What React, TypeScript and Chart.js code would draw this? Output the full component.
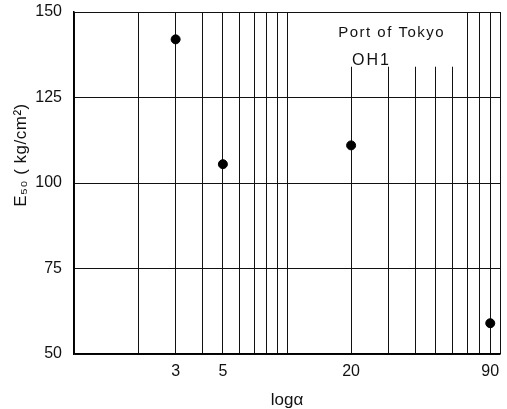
import React, { useEffect, useRef } from "react";
import { Chart, registerables } from "chart.js";

Chart.register(...registerables);

const xGridValues = [1, 2, 3, 4, 5, 6, 7, 8, 9, 10, 20, 30, 40, 50, 60, 70, 80, 90, 100];
const xTickLabels = [3, 5, 20, 90];
const yTickValues = [50, 75, 100, 125, 150];
const alphaValues = [3, 5, 20, 90];
const e50Values = [142, 105.5, 111, 59];
const annotationTitle = "Port of Tokyo";
const annotationSite = "OH1";
const yAxisTitle = "E₅₀ ( kg/cm²)";
const xAxisTitle = "logα";

const FONT = "'Liberation Sans', Arial, sans-serif";

const annotationPlugin = {
  id: "annotationText",
  beforeDatasetsDraw(chart: any) {
    const { ctx, scales, chartArea } = chart;
    const x = scales.x;
    const y = scales.y;
    // blank area behind the label (grid lines stop below the text)
    const x0 = x.getPixelForValue(11);
    const x1 = x.getPixelForValue(67);
    const y1 = y.getPixelForValue(134);
    ctx.save();
    ctx.fillStyle = "#fff";
    ctx.fillRect(x0, chartArea.top + 1, x1 - x0, y1 - chartArea.top - 1);
    ctx.fillStyle = "#111";
    ctx.textBaseline = "middle";
    ctx.textAlign = "center";
    ctx.font = `15px ${FONT}`;
    (ctx as any).letterSpacing = "1.5px";
    ctx.fillText(annotationTitle, x.getPixelForValue(31), y.getPixelForValue(143.9));
    ctx.textAlign = "left";
    (ctx as any).letterSpacing = "2px";
    ctx.font = `16px ${FONT}`;
    ctx.fillText(annotationSite, x.getPixelForValue(20.2), y.getPixelForValue(135.9));
    ctx.restore();
  },
  afterDraw(chart: any) {
    const { ctx, chartArea } = chart;
    ctx.save();
    ctx.fillStyle = "#111";
    ctx.font = `17px ${FONT}`;
    (ctx as any).letterSpacing = "0.5px";
    ctx.textAlign = "center";
    ctx.textBaseline = "middle";
    ctx.translate(21, chartArea.top + 143);
    ctx.rotate(-Math.PI / 2);
    ctx.fillText(yAxisTitle, 0, 0);
    ctx.restore();
  },
};

export default function App() {
  const ref = useRef<HTMLCanvasElement | null>(null);
  useEffect(() => {
    document.body.style.margin = "0";
    const canvas = ref.current!;
    const chart = new Chart(canvas, {
      type: "scatter",
      data: {
        datasets: [
          {
            data: alphaValues.map((a, i) => ({ x: a, y: e50Values[i] })),
            backgroundColor: "#000",
            borderColor: "#000",
            pointRadius: 4.5,
            pointHoverRadius: 4.5,
          },
        ],
      },
      options: {
        responsive: false,
        animation: false,
        events: [],
        layout: { padding: { top: 12, right: 7, left: 0, bottom: 0 } },
        plugins: { legend: { display: false }, tooltip: { enabled: false } },
        scales: {
          x: {
            type: "logarithmic",
            min: 1,
            max: 100,
            afterBuildTicks: (scale: any) => {
              scale.ticks = xGridValues.map((v) => ({ value: v }));
            },
            afterFit: (scale: any) => {
              scale.height = 55;
              scale.paddingLeft = 0;
              scale.paddingRight = 0;
            },
            grid: { color: "#111", lineWidth: 1, drawTicks: false },
            border: { color: "#000", width: 1.5 },
            ticks: {
              autoSkip: false,
              maxRotation: 0,
              padding: 8,
              color: "#111",
              font: { family: FONT, size: 16 },
              callback: (v: any) => (xTickLabels.includes(Number(v)) ? String(v) : ""),
            },
            title: {
              display: true,
              text: xAxisTitle,
              color: "#111",
              font: { family: FONT, size: 17, lineHeight: 1.0 },
              padding: { top: 0, bottom: 0 },
            },
          },
          y: {
            type: "linear",
            min: 50,
            max: 150,
            afterBuildTicks: (scale: any) => {
              scale.ticks = yTickValues.map((v) => ({ value: v }));
            },
            afterFit: (scale: any) => {
              scale.width = 74;
              scale.paddingTop = 0;
              scale.paddingBottom = 0;
            },
            grid: { color: "#111", lineWidth: 1, drawTicks: false },
            border: { color: "#000", width: 1.5 },
            ticks: {
              padding: 12,
              color: "#111",
              font: { family: FONT, size: 16 },
            },
          },
        },
      },
      plugins: [annotationPlugin],
    } as any);
    return () => chart.destroy();
  }, []);
  return (
    <div style={{ position: "fixed", left: 0, top: 0, width: 507, height: 409, background: "#fff" }}>
      <canvas ref={ref} width={507} height={409} />
    </div>
  );
}
